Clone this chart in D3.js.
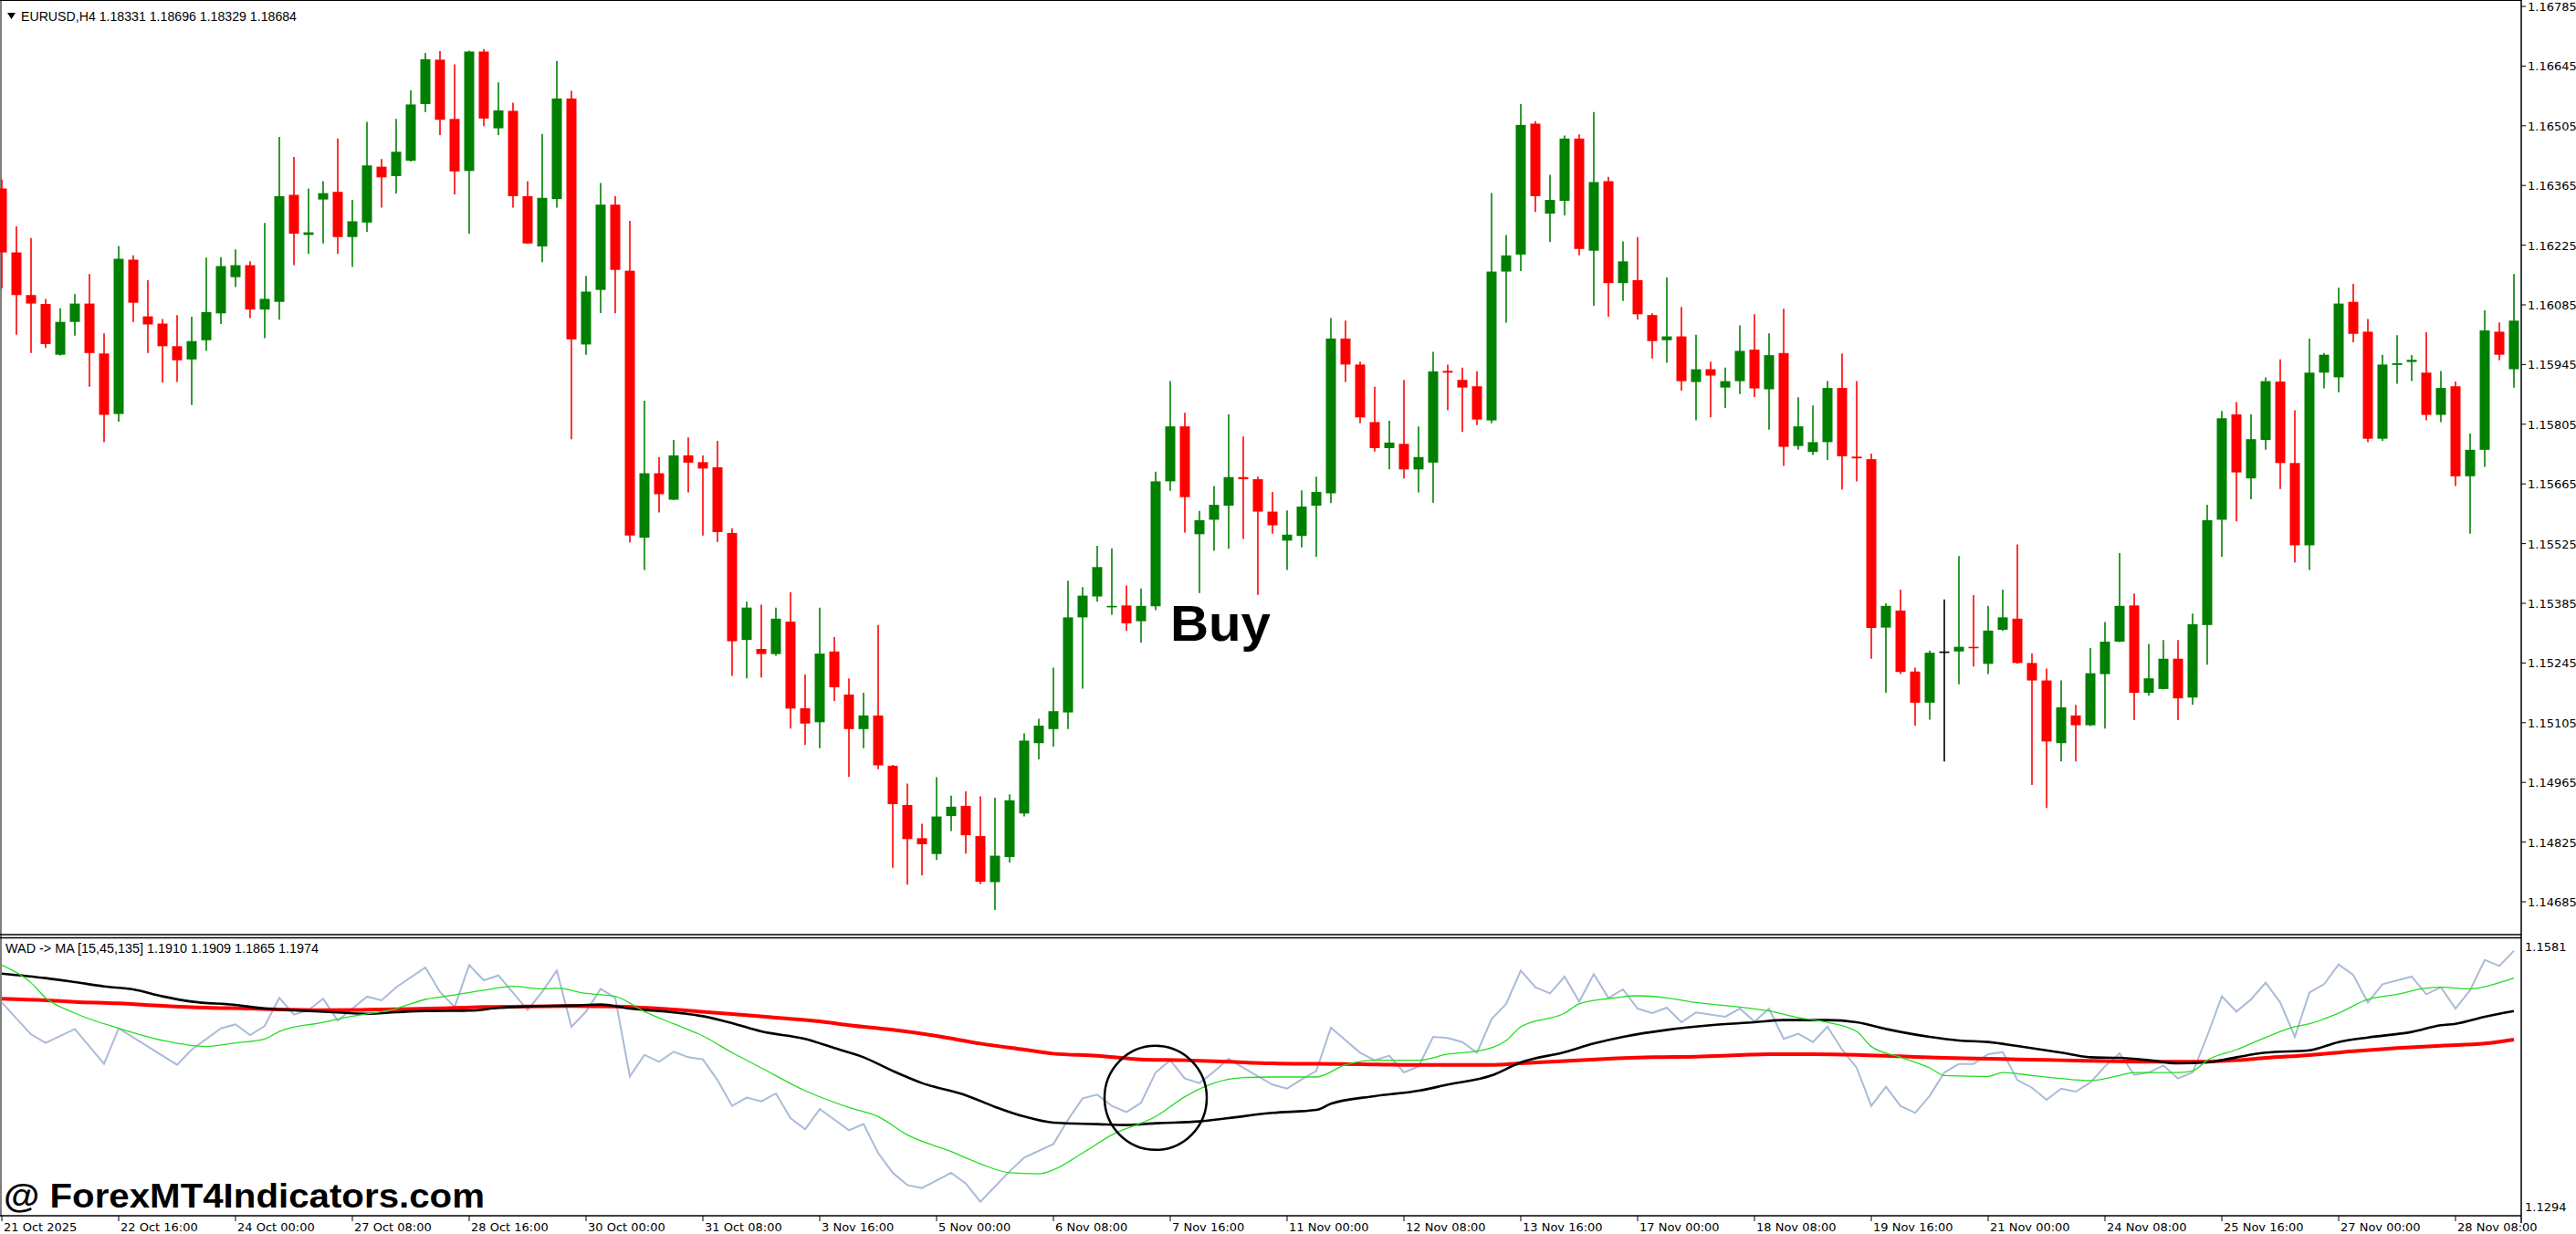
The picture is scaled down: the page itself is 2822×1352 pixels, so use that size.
<!DOCTYPE html>
<html><head><meta charset="utf-8">
<script src="https://cdn.jsdelivr.net/npm/d3@7"></script>
<style>html,body{margin:0;padding:0;background:#fff;overflow:hidden}</style>
</head><body><svg id="c" width="2822" height="1352"></svg>
<script>
const openP=[1.16358,1.16208,1.16108,1.16087,1.15968,1.16045,1.16088,1.15971,1.15829,1.16191,
1.16058,1.16041,1.15988,1.15957,1.16002,1.16065,1.16150,1.16178,1.16074,1.16092,
1.16343,1.16249,1.16332,1.16350,1.16244,1.16278,1.16409,1.16387,1.16423,1.16556,
1.16660,1.16521,1.16399,1.16679,1.16499,1.16540,1.16340,1.16222,1.16333,1.16569,
1.15992,1.16120,1.16320,1.16165,1.15539,1.15690,1.15628,1.15732,1.15716,1.15704,
1.15550,1.15299,1.15278,1.15266,1.15342,1.15139,1.15106,1.15272,1.15171,1.15090,
1.15122,1.15004,1.14912,1.14834,1.14797,1.14886,1.14910,1.14839,1.14731,1.14790,
1.14892,1.15057,1.15090,1.15129,1.15352,1.15401,1.15376,1.15380,1.15343,1.15378,
1.15671,1.15800,1.15547,1.15581,1.15614,1.15681,1.15676,1.15600,1.15532,1.15543,
1.15614,1.15643,1.16006,1.15945,1.15810,1.15749,1.15759,1.15699,1.15715,1.15930,
1.15909,1.15894,1.15814,1.16163,1.16203,1.16510,1.16299,1.16329,1.16475,1.16212,
1.16375,1.16136,1.16143,1.16061,1.16002,1.16011,1.15904,1.15934,1.15891,1.15906,
1.15980,1.15887,1.15972,1.15754,1.15740,1.15763,1.15890,1.15729,1.15723,1.15328,
1.15368,1.15225,1.15152,1.15272,1.15272,1.15283,1.15243,1.15323,1.15349,1.15245,
1.15204,1.15057,1.15122,1.15099,1.15219,1.15295,1.15380,1.15175,1.15184,1.15255,
1.15164,1.15334,1.15581,1.15828,1.15678,1.15768,1.15905,1.15714,1.15521,1.15926,
1.15915,1.16092,1.16022,1.15771,1.15944,1.15951,1.15926,1.15827,1.15894,1.15683,
1.15745,1.16022,1.15934];
const highP=[1.16379,1.16269,1.16242,1.16099,1.16077,1.16110,1.16157,1.16018,1.16223,1.16201,
1.16143,1.16052,1.16061,1.16057,1.16196,1.16197,1.16215,1.16187,1.16277,1.16479,
1.16432,1.16358,1.16375,1.16475,1.16331,1.16514,1.16427,1.16521,1.16588,1.16676,
1.16680,1.16649,1.16681,1.16685,1.16607,1.16559,1.16375,1.16486,1.16657,1.16587,
1.16153,1.16371,1.16340,1.16282,1.15860,1.15728,1.15768,1.15774,1.15732,1.15766,
1.15561,1.15389,1.15382,1.15375,1.15411,1.15218,1.15375,1.15306,1.15209,1.15175,
1.15334,1.15006,1.14962,1.14868,1.14977,1.14934,1.14944,1.14932,1.14929,1.14937,
1.15080,1.15114,1.15234,1.15438,1.15423,1.15520,1.15514,1.15427,1.15420,1.15694,
1.15906,1.15832,1.15602,1.15660,1.15828,1.15776,1.15682,1.15646,1.15603,1.15650,
1.15682,1.16054,1.16048,1.15952,1.15893,1.15813,1.15909,1.15800,1.15975,1.15945,
1.15938,1.15929,1.16347,1.16249,1.16556,1.16516,1.16390,1.16482,1.16485,1.16537,
1.16385,1.16234,1.16244,1.16065,1.16149,1.16080,1.16015,1.15952,1.15938,1.16037,
1.16063,1.16018,1.16076,1.15868,1.15849,1.15906,1.15971,1.15906,1.15736,1.15385,
1.15417,1.15234,1.15274,1.15394,1.15496,1.15404,1.15379,1.15417,1.15523,1.15267,
1.15232,1.15204,1.15147,1.15280,1.15341,1.15503,1.15408,1.15290,1.15299,1.15299,
1.15361,1.15616,1.15836,1.15857,1.15828,1.15915,1.15957,1.15838,1.16006,1.15972,
1.16125,1.16134,1.16052,1.15968,1.16014,1.15967,1.16021,1.15930,1.15905,1.15783,
1.16072,1.16044,1.16157];
const lowP=[1.16124,1.16015,1.15972,1.15984,1.15966,1.16013,1.15893,1.15763,1.15811,1.16045,
1.15972,1.15903,1.15904,1.15850,1.15977,1.16040,1.16127,1.16054,1.16007,1.16050,
1.16178,1.16205,1.16229,1.16205,1.16174,1.16256,1.16313,1.16346,1.16421,1.16537,
1.16483,1.16344,1.16252,1.16504,1.16483,1.16313,1.16228,1.16185,1.16313,1.15770,
1.15968,1.16066,1.16065,1.15528,1.15463,1.15598,1.15627,1.15645,1.15544,1.15529,
1.15215,1.15209,1.15211,1.15262,1.15091,1.15053,1.15045,1.15156,1.14978,1.15045,
1.14996,1.14765,1.14725,1.14747,1.14783,1.14851,1.14798,1.14726,1.14666,1.14777,
1.14885,1.15019,1.15049,1.15090,1.15185,1.15389,1.15358,1.15320,1.15293,1.15369,
1.15649,1.15551,1.15409,1.15508,1.15513,1.15536,1.15405,1.15548,1.15463,1.15516,
1.15494,1.15620,1.15904,1.15807,1.15741,1.15699,1.15678,1.15645,1.15621,1.15838,
1.15787,1.15803,1.15807,1.16043,1.16164,1.16303,1.16232,1.16295,1.16201,1.16083,
1.16057,1.16094,1.16050,1.15959,1.15949,1.15884,1.15814,1.15821,1.15843,1.15876,
1.15869,1.15792,1.15707,1.15745,1.15733,1.15721,1.15652,1.15671,1.15255,1.15175,
1.15219,1.15098,1.15112,1.15014,1.15195,1.15237,1.15219,1.15320,1.15243,1.14959,
1.14905,1.15014,1.15014,1.15097,1.15091,1.15294,1.15111,1.15168,1.15183,1.15111,
1.15147,1.15241,1.15494,1.15577,1.15629,1.15745,1.15653,1.15481,1.15463,1.15889,
1.15880,1.15997,1.15763,1.15766,1.15900,1.15906,1.15814,1.15810,1.15660,1.15548,
1.15705,1.15955,1.15891];
const closeP=[1.16208,1.16108,1.16088,1.15993,1.16045,1.16088,1.15972,1.15827,1.16193,1.16090,
1.16039,1.15988,1.15955,1.16000,1.16068,1.16176,1.16178,1.16074,1.16099,1.16340,
1.16252,1.16255,1.16347,1.16244,1.16281,1.16412,1.16384,1.16444,1.16555,1.16661,
1.16519,1.16398,1.16679,1.16522,1.16541,1.16340,1.16229,1.16336,1.16569,1.16004,
1.16116,1.16320,1.16167,1.15544,1.15690,1.15641,1.15732,1.15715,1.15701,1.15552,
1.15296,1.15375,1.15266,1.15349,1.15138,1.15103,1.15267,1.15188,1.15090,1.15122,
1.15005,1.14914,1.14832,1.14820,1.14885,1.14908,1.14841,1.14732,1.14793,1.14923,
1.15063,1.15098,1.15132,1.15352,1.15403,1.15470,1.15379,1.15338,1.15379,1.15671,
1.15800,1.15634,1.15580,1.15616,1.15681,1.15676,1.15600,1.15568,1.15546,1.15612,
1.15646,1.16006,1.15945,1.15821,1.15749,1.15762,1.15699,1.15728,1.15929,1.15926,
1.15891,1.15816,1.16163,1.16201,1.16507,1.16340,1.16331,1.16475,1.16216,1.16373,
1.16136,1.16187,1.16063,1.16000,1.16011,1.15906,1.15934,1.15919,1.15906,1.15977,
1.15889,1.15967,1.15752,1.15800,1.15763,1.15890,1.15730,1.15725,1.15327,1.15379,
1.15224,1.15152,1.15269,1.15272,1.15283,1.15280,1.15321,1.15352,1.15245,1.15204,
1.15061,1.15141,1.15099,1.15221,1.15295,1.15379,1.15175,1.15209,1.15255,1.15162,
1.15336,1.15580,1.15819,1.15692,1.15770,1.15906,1.15714,1.15521,1.15926,1.15968,
1.16088,1.16017,1.15771,1.15945,1.15948,1.15956,1.15827,1.15890,1.15683,1.15745,
1.16025,1.15968,1.16048];

const priceTicks=[1.16785,1.16645,1.16505,1.16365,1.16225,1.16085,1.15945,1.15805,1.15665,1.15525,1.15385,1.15245,1.15105,1.14965,1.14825,1.14685];
const indTicks=[1.1581,1.1294];
const timeIdx=[0,8,16,24,32,40,48,56,64,72,80,88,96,104,112,120,128,136,144,152,160,168];
const timeLabels=["21 Oct 2025","22 Oct 16:00","24 Oct 00:00","27 Oct 08:00","28 Oct 16:00","30 Oct 00:00","31 Oct 08:00","3 Nov 16:00","5 Nov 00:00","6 Nov 08:00","7 Nov 16:00","11 Nov 00:00","12 Nov 08:00","13 Nov 16:00","17 Nov 00:00","18 Nov 08:00","19 Nov 16:00","21 Nov 00:00","24 Nov 08:00","25 Nov 16:00","27 Nov 00:00","28 Nov 08:00"];

const wadBars=[0,2,3,5,7,8,10,12,13,15,16,17,18,19,20,21,22,23,25,26,27,29,30,31,32,33,34,36,37,38,39,40,41,42,43,44,45,46,47,48,49,50,51,52,53,54,55,56,58,59,60,61,62,63,65,66,67,68,69,70,72,73,74,75,76,77,78,79,80,81,82,83,84,85,87,88,89,90,91,93,94,95,96,97,98,99,100,101,102,103,104,105,106,107,108,109,110,111,112,113,114,115,116,118,119,120,121,122,123,124,125,126,127,128,129,130,131,132,133,134,135,136,137,138,139,140,141,142,143,144,145,146,147,148,149,150,151,152,153,154,155,156,157,158,159,160,161,162,163,165,166,167,168,169,170,171,172];
const wadValues=[1.15192,1.14840,1.14746,1.14900,1.14514,1.14907,1.14706,1.14504,1.14672,1.14907,1.14951,1.14833,1.14934,1.15243,1.15058,1.15108,1.15233,1.14991,1.15257,1.15216,1.15360,1.15578,1.15310,1.15142,1.15605,1.15437,1.15491,1.15108,1.15310,1.15545,1.14924,1.15092,1.15343,1.15243,1.14377,1.14615,1.14538,1.14649,1.14588,1.14565,1.14336,1.14051,1.14142,1.14101,1.14189,1.13917,1.13793,1.14017,1.13782,1.13850,1.13531,1.13313,1.13178,1.13145,1.13313,1.13195,1.12994,1.13161,1.13329,1.13480,1.13631,1.13900,1.14135,1.14175,1.14051,1.13984,1.14085,1.14420,1.14555,1.14353,1.14303,1.14430,1.14571,1.14471,1.14286,1.14242,1.14343,1.14437,1.14914,1.14638,1.14555,1.14605,1.14420,1.14487,1.14813,1.14800,1.14756,1.14638,1.15008,1.15176,1.15545,1.15360,1.15293,1.15478,1.15202,1.15505,1.15243,1.15337,1.15125,1.15075,1.15135,1.14974,1.15082,1.15035,1.15125,1.14981,1.15125,1.14790,1.14847,1.14756,1.14924,1.14672,1.14471,1.14051,1.14263,1.14051,1.13974,1.14162,1.14420,1.14514,1.14514,1.14622,1.14645,1.14336,1.14252,1.14118,1.14242,1.14209,1.14310,1.14487,1.14632,1.14393,1.14420,1.14497,1.14353,1.14420,1.14823,1.15260,1.15092,1.15226,1.15411,1.15192,1.14813,1.15303,1.15394,1.15612,1.15495,1.15192,1.15394,1.15478,1.15283,1.15360,1.15125,1.15327,1.15662,1.15595,1.15763];

const ma15Bars=[0,2,3,5,8,11,14,16,18,19,22,24,27,29,31,33,35,37,38,40,42,44,46,48,50,52,55,58,60,62,65,67,69,71,72,74,76,79,81,83,85,87,90,92,94,97,99,101,103,104,107,108,110,112,114,116,119,121,123,125,127,128,130,132,133,136,137,139,141,143,145,146,149,150,151,153,155,157,158,160,162,164,166,167,169,171,172];
const ma15Values=[1.15605,1.15411,1.15243,1.15075,1.14907,1.14773,1.14706,1.14746,1.14790,1.14873,1.14974,1.15041,1.15125,1.15226,1.15276,1.15327,1.15370,1.15343,1.15350,1.15293,1.15260,1.15092,1.14957,1.14823,1.14639,1.14471,1.14219,1.14034,1.13934,1.13732,1.13547,1.13413,1.13313,1.13302,1.13346,1.13531,1.13732,1.13934,1.14152,1.14303,1.14363,1.14370,1.14370,1.14504,1.14555,1.14555,1.14622,1.14655,1.14773,1.14924,1.15075,1.15176,1.15236,1.15266,1.15243,1.15192,1.15142,1.15098,1.15025,1.14974,1.14873,1.14706,1.14588,1.14471,1.14387,1.14377,1.14420,1.14387,1.14353,1.14330,1.14387,1.14420,1.14420,1.14437,1.14555,1.14672,1.14806,1.14924,1.14957,1.15075,1.15226,1.15283,1.15350,1.15360,1.15343,1.15411,1.15461];

const ma45Bars=[0,3,5,7,9,11,13,16,18,20,23,25,27,29,32,34,36,39,41,43,46,48,50,52,55,57,59,61,63,66,68,70,72,75,77,79,82,84,87,90,91,94,97,99,102,104,107,109,111,114,117,120,122,125,127,129,132,134,136,138,141,143,145,147,149,151,153,155,158,160,162,165,167,168,170,172];
const ma45Values=[1.15511,1.15461,1.15417,1.15370,1.15337,1.15260,1.15202,1.15166,1.15125,1.15108,1.15082,1.15068,1.15085,1.15098,1.15102,1.15132,1.15149,1.15159,1.15169,1.15125,1.15082,1.15041,1.14964,1.14873,1.14790,1.14689,1.14588,1.14437,1.14303,1.14169,1.14041,1.13934,1.13866,1.13850,1.13840,1.13860,1.13880,1.13917,1.13974,1.14007,1.14075,1.14159,1.14219,1.14286,1.14387,1.14531,1.14645,1.14739,1.14813,1.14890,1.14941,1.14974,1.14998,1.14998,1.14974,1.14900,1.14813,1.14773,1.14756,1.14712,1.14639,1.14588,1.14581,1.14555,1.14521,1.14531,1.14588,1.14639,1.14665,1.14756,1.14806,1.14867,1.14941,1.14957,1.15035,1.15098];

const ma135Bars=[0,3,5,8,11,14,17,19,22,25,28,31,33,36,39,42,45,47,50,53,56,58,61,64,67,70,72,75,78,81,84,87,90,93,96,99,102,104,107,110,113,116,119,121,124,127,130,133,136,138,141,144,147,150,153,155,158,161,164,167,170,172];
const ma135Values=[1.15233,1.15216,1.15199,1.15182,1.15155,1.15135,1.15125,1.15115,1.15108,1.15112,1.15119,1.15132,1.15142,1.15149,1.15152,1.15149,1.15125,1.15102,1.15065,1.15025,1.14984,1.14941,1.14890,1.14823,1.14739,1.14672,1.14628,1.14605,1.14565,1.14555,1.14538,1.14521,1.14515,1.14511,1.14504,1.14504,1.14504,1.14521,1.14545,1.14571,1.14588,1.14595,1.14612,1.14622,1.14622,1.14615,1.14598,1.14581,1.14571,1.14565,1.14555,1.14545,1.14538,1.14538,1.14555,1.14581,1.14612,1.14655,1.14689,1.14716,1.14739,1.14783];

const circleBar=79, circleValue=1.1414;
const buyBar=80, buyPrice=1.15297;

const svg=d3.select("#c");
svg.append("rect").attr("width",2822).attr("height",1352).attr("fill","#fff");
const W=2762;
const x=d3.scaleLinear().domain([0,172]).range([2,2754]);
const y=d3.scaleLinear().domain([1.14685,1.16785]).range([988,7]);
const yi=d3.scaleLinear().domain([1.1294,1.1581]).range([1322,1037]);

const fr=svg.append("g").attr("stroke","#000").attr("fill","none");
fr.append("line").attr("x1",0).attr("x2",W).attr("y1",0.5).attr("y2",0.5);
fr.append("line").attr("x1",1).attr("x2",1).attr("y1",0).attr("y2",1332);
fr.append("line").attr("x1",0).attr("x2",W).attr("y1",1024).attr("y2",1024).attr("stroke-width",1.5);
fr.append("line").attr("x1",0).attr("x2",W).attr("y1",1027.5).attr("y2",1027.5).attr("stroke-width",1.5);
fr.append("line").attr("x1",0).attr("x2",W).attr("y1",1332).attr("y2",1332).attr("stroke-width",1.5);
fr.append("line").attr("x1",W).attr("x2",W).attr("y1",0).attr("y2",1340).attr("stroke-width",1.5);

const idx=d3.range(openP.length);
const col=i=>closeP[i]>openP[i]?"#008000":(closeP[i]<openP[i]?"#ff0000":"#000");
const cg=svg.append("g");
cg.selectAll("line.w").data(idx).join("line").attr("class","w")
 .attr("x1",i=>x(i)).attr("x2",i=>x(i)).attr("y1",i=>y(highP[i])).attr("y2",i=>y(lowP[i]))
 .attr("stroke",col).attr("stroke-width",1.6);
cg.selectAll("rect").data(idx).join("rect")
 .attr("x",i=>x(i)-5.5).attr("width",11)
 .attr("y",i=>y(Math.max(openP[i],closeP[i])))
 .attr("height",i=>Math.max(1.6,Math.abs(y(openP[i])-y(closeP[i]))))
 .attr("fill",col);

const ax=svg.append("g").attr("font-family","DejaVu Sans, Verdana, sans-serif").attr("font-size",13);
priceTicks.forEach(t=>{
 ax.append("line").attr("x1",W).attr("x2",W+5).attr("y1",y(t)).attr("y2",y(t)).attr("stroke","#000");
 ax.append("text").attr("x",W+7).attr("y",y(t)+5).text(t.toFixed(5));
});
indTicks.forEach(t=>{
 ax.append("text").attr("x",W+4).attr("y",yi(t)+5).text(t.toFixed(4));
});
timeIdx.forEach((b,k)=>{
 ax.append("line").attr("x1",x(b)).attr("x2",x(b)).attr("y1",1332).attr("y2",1338).attr("stroke","#000");
 ax.append("text").attr("x",x(b)+2).attr("y",1349).text(timeLabels[k]);
});

svg.append("path").attr("d","M8,14 L17,14 L12.5,21 Z").attr("fill","#000");
svg.append("text").attr("x",23).attr("y",23).attr("font-family","Liberation Sans, Arial, sans-serif").attr("font-size",15)
 .attr("textLength",302).attr("lengthAdjust","spacingAndGlyphs").text("EURUSD,H4  1.18331 1.18696 1.18329 1.18684");
svg.append("text").attr("x",6).attr("y",1044).attr("font-family","Liberation Sans Narrow, Liberation Sans, Arial, sans-serif").attr("font-size",15)
 .attr("textLength",343).attr("lengthAdjust","spacingAndGlyphs").text("WAD -> MA [15,45,135] 1.1910 1.1909 1.1865 1.1974");

const ig=svg.append("g").attr("fill","none");
const mk=(bars,vals,curve)=>d3.line().x((d,k)=>x(bars[k])).y(d=>yi(d)).curve(curve)(vals);
ig.append("path").attr("d",mk(wadBars,wadValues,d3.curveLinear)).attr("stroke","#aabbd8").attr("stroke-width",2);
ig.append("path").attr("d",mk(ma135Bars,ma135Values,d3.curveMonotoneX)).attr("stroke","#ff0000").attr("stroke-width",4);
ig.append("path").attr("d",mk(ma45Bars,ma45Values,d3.curveMonotoneX)).attr("stroke","#000").attr("stroke-width",2.6);
ig.append("path").attr("d",mk(ma15Bars,ma15Values,d3.curveMonotoneX)).attr("stroke","#22dd22").attr("stroke-width",1.3);

svg.append("ellipse").attr("cx",x(circleBar)).attr("cy",yi(circleValue)).attr("rx",56).attr("ry",57)
 .attr("fill","none").attr("stroke","#000").attr("stroke-width",2.5);

svg.append("text").attr("x",x(buyBar)).attr("y",y(buyPrice)).attr("font-family","Liberation Sans, Arial, sans-serif")
 .attr("font-weight","bold").attr("font-size",56).attr("textLength",110).attr("lengthAdjust","spacingAndGlyphs").text("Buy");

svg.append("text").attr("x",4).attr("y",1323).attr("font-family","Liberation Sans Narrow, Liberation Sans, Arial, sans-serif")
 .attr("font-weight","bold").attr("font-size",36).attr("textLength",527).attr("lengthAdjust","spacingAndGlyphs").text("@ ForexMT4Indicators.com");
</script></body></html>
